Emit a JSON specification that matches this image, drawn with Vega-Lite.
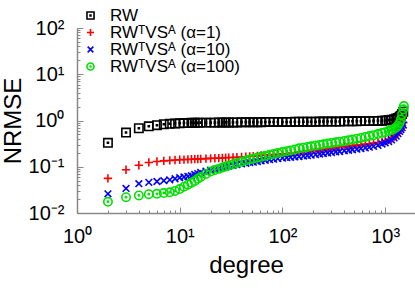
{
  "$schema": "https://vega.github.io/schema/vega-lite/v6.json",
  "width": 338,
  "height": 185,
  "autosize": {"type": "none"},
  "padding": {"left": 77, "top": 28, "right": 0, "bottom": 78},
  "background": "white",
  "config": {"view": {"stroke": null}, "font": "Liberation Sans"},
  "data": {"values": [
    {"d":2,"a":0.33,"b":0.056,"c":0.026,"e":0.0175},
    {"d":3,"a":0.55,"b":0.086,"c":0.034,"e":0.022},
    {"d":4,"a":0.68,"b":0.108,"c":0.043,"e":0.024},
    {"d":5,"a":0.75,"b":0.124,"c":0.046,"e":0.0255},
    {"d":6,"a":0.79,"b":0.13,"c":0.048,"e":0.026},
    {"d":7,"a":0.83,"b":0.134,"c":0.05,"e":0.027},
    {"d":8,"a":0.85,"b":0.137,"c":0.052,"e":0.028},
    {"d":9,"a":0.86,"b":0.14,"c":0.055,"e":0.030},
    {"d":10,"a":0.87,"b":0.142,"c":0.058,"e":0.033},
    {"d":11,"a":0.88,"b":0.143,"c":0.060,"e":0.037},
    {"d":12,"a":0.88,"b":0.144,"c":0.062,"e":0.041},
    {"d":13,"a":0.89,"b":0.145,"c":0.064,"e":0.045},
    {"d":14,"a":0.89,"b":0.146,"c":0.068,"e":0.049},
    {"d":15,"a":0.89,"b":0.147,"c":0.071,"e":0.055},
    {"d":16,"a":0.90,"b":0.148,"c":0.075,"e":0.060},
    {"d":18,"a":0.90,"b":0.150,"c":0.080,"e":0.070},
    {"d":20,"a":0.90,"b":0.152,"c":0.084,"e":0.079},
    {"d":22,"a":0.90,"b":0.153,"c":0.088,"e":0.085},
    {"d":24,"a":0.91,"b":0.154,"c":0.092,"e":0.090},
    {"d":26,"a":0.91,"b":0.155,"c":0.096,"e":0.096},
    {"d":28,"a":0.91,"b":0.157,"c":0.100,"e":0.101},
    {"d":30,"a":0.91,"b":0.158,"c":0.103,"e":0.106},
    {"d":33,"a":0.91,"b":0.159,"c":0.107,"e":0.113},
    {"d":36,"a":0.91,"b":0.161,"c":0.111,"e":0.120},
    {"d":40,"a":0.92,"b":0.163,"c":0.115,"e":0.128},
    {"d":44,"a":0.92,"b":0.165,"c":0.119,"e":0.136},
    {"d":48,"a":0.92,"b":0.167,"c":0.123,"e":0.144},
    {"d":52,"a":0.92,"b":0.169,"c":0.126,"e":0.150},
    {"d":57,"a":0.92,"b":0.172,"c":0.130,"e":0.157},
    {"d":62,"a":0.92,"b":0.175,"c":0.134,"e":0.164},
    {"d":68,"a":0.93,"b":0.178,"c":0.138,"e":0.172},
    {"d":75,"a":0.93,"b":0.181,"c":0.142,"e":0.181},
    {"d":82,"a":0.93,"b":0.184,"c":0.146,"e":0.189},
    {"d":90,"a":0.93,"b":0.187,"c":0.150,"e":0.198},
    {"d":100,"a":0.93,"b":0.190,"c":0.154,"e":0.208},
    {"d":110,"a":0.93,"b":0.194,"c":0.157,"e":0.217},
    {"d":120,"a":0.93,"b":0.198,"c":0.160,"e":0.226},
    {"d":132,"a":0.94,"b":0.202,"c":0.163,"e":0.237},
    {"d":145,"a":0.94,"b":0.208,"c":0.166,"e":0.250},
    {"d":160,"a":0.94,"b":0.213,"c":0.170,"e":0.259},
    {"d":175,"a":0.94,"b":0.218,"c":0.174,"e":0.268},
    {"d":190,"a":0.94,"b":0.223,"c":0.178,"e":0.277},
    {"d":210,"a":0.94,"b":0.229,"c":0.183,"e":0.287},
    {"d":230,"a":0.95,"b":0.235,"c":0.188,"e":0.297},
    {"d":250,"a":0.95,"b":0.241,"c":0.193,"e":0.306},
    {"d":275,"a":0.95,"b":0.248,"c":0.198,"e":0.317},
    {"d":300,"a":0.95,"b":0.255,"c":0.203,"e":0.327},
    {"d":330,"a":0.95,"b":0.262,"c":0.209,"e":0.338},
    {"d":360,"a":0.95,"b":0.268,"c":0.214,"e":0.349},
    {"d":400,"a":0.96,"b":0.275,"c":0.221,"e":0.362},
    {"d":440,"a":0.96,"b":0.281,"c":0.227,"e":0.376},
    {"d":480,"a":0.96,"b":0.287,"c":0.233,"e":0.390},
    {"d":530,"a":0.96,"b":0.293,"c":0.240,"e":0.405},
    {"d":580,"a":0.97,"b":0.300,"c":0.247,"e":0.420},
    {"d":640,"a":0.97,"b":0.310,"c":0.256,"e":0.440},
    {"d":700,"a":0.97,"b":0.315,"c":0.265,"e":0.460},
    {"d":770,"a":0.98,"b":0.325,"c":0.276,"e":0.480},
    {"d":850,"a":0.98,"b":0.335,"c":0.290,"e":0.510},
    {"d":930,"a":0.99,"b":0.345,"c":0.310,"e":0.540},
    {"d":1000,"a":1.0,"b":0.36,"c":0.33,"e":0.56},
    {"d":1080,"a":1.02,"b":0.38,"c":0.35,"e":0.59},
    {"d":1150,"a":1.04,"b":0.40,"c":0.38,"e":0.62},
    {"d":1220,"a":1.07,"b":0.44,"c":0.42,"e":0.66},
    {"d":1280,"a":1.10,"b":0.48,"c":0.46,"e":0.71},
    {"d":1330,"a":1.14,"b":0.53,"c":0.52,"e":0.78},
    {"d":1380,"a":1.20,"b":0.60,"c":0.58,"e":0.88},
    {"d":1420,"a":1.27,"b":0.68,"c":0.64,"e":1.05},
    {"d":1460,"a":1.38,"b":0.78,"c":0.70,"e":1.35},
    {"d":1500,"a":1.55,"b":0.90,"c":0.80,"e":1.75},
    {"d":1520,"e":2.05}
  ]},
  "transform": [
    {"fold": ["a","b","c","e"], "as": ["s","v"]},
    {"filter": "isValid(datum.v)"}
  ],
  "resolve": {"axis": {"x": "independent", "y": "independent"}},
  "layer": [
    {
      "mark": {"type": "point", "opacity": 0},
      "encoding": {
        "x": {"field": "d", "type": "quantitative", "scale": {"type": "log", "domain": [1, 1950], "nice": false},
          "axis": {"orient": "bottom", "values": [2,3,4,5,6,7,8,9,20,30,40,50,60,70,80,90,200,300,400,500,600,700,800,900], "labels": false, "domain": false, "grid": false, "tickSize": -3, "tickColor": "#888888", "tickWidth": 1, "title": null}},
        "y": {"field": "v", "type": "quantitative", "scale": {"type": "log", "domain": [0.01, 100], "nice": false},
          "axis": {"orient": "left", "values": [0.02,0.03,0.04,0.05,0.06,0.07,0.08,0.09,0.2,0.3,0.4,0.5,0.6,0.7,0.8,0.9,2,3,4,5,6,7,8,9,20,30,40,50,60,70,80,90], "labels": false, "domain": false, "grid": false, "tickSize": -3, "tickColor": "#888888", "tickWidth": 1, "title": null}}
      }
    },
    {
      "mark": {"type": "point", "opacity": 0},
      "encoding": {
        "x": {"field": "d", "type": "quantitative", "scale": {"type": "log", "domain": [1, 1950], "nice": false},
          "axis": {"orient": "bottom", "values": [1,10,100,1000], "labels": false, "domain": false, "grid": false, "tickSize": -6, "tickColor": "#888888", "tickWidth": 1, "title": null}},
        "y": {"field": "v", "type": "quantitative", "scale": {"type": "log", "domain": [0.01, 100], "nice": false},
          "axis": {"orient": "left", "values": [0.01,0.1,1,10,100], "labels": false, "domain": false, "grid": false, "tickSize": -6, "tickColor": "#888888", "tickWidth": 1, "title": null}}
      }
    },
    {
      "mark": {"type": "point", "filled": false, "strokeWidth": 1.6, "size": 70, "opacity": 1},
      "encoding": {
        "x": {"field": "d", "type": "quantitative", "scale": {"type": "log", "domain": [1, 1950], "nice": false},
          "axis": {"orient": "bottom", "values": [1,10,100,1000], "ticks": false, "grid": false, "domainColor": "#888888", "domainWidth": 1.5,
            "labelExpr": "datum.value==1?'10⁰':datum.value==10?'10¹':datum.value==100?'10²':'10³'",
            "labelFlush": false, "labelOverlap": false,
            "labelFontSize": 20, "labelColor": "black", "labelPadding": 13, "labelFont": "Liberation Sans",
            "title": "degree", "titleFontSize": 24, "titleFontWeight": "normal", "titleColor": "black", "titlePadding": 7, "titleFont": "Liberation Sans"}},
        "y": {"field": "v", "type": "quantitative", "scale": {"type": "log", "domain": [0.01, 100], "nice": false},
          "axis": {"orient": "left", "values": [0.01,0.1,1,10,100], "ticks": false, "grid": false, "domainColor": "#888888", "domainWidth": 1.5,
            "labelExpr": "datum.value==0.01?'10⁻²':datum.value==0.1?'10⁻¹':datum.value==1?'10⁰':datum.value==10?'10¹':'10²'",
            "labelFlush": false, "labelOverlap": false,
            "labelFontSize": 20, "labelColor": "black", "labelPadding": 13, "labelFont": "Liberation Sans",
            "title": "NRMSE", "titleFontSize": 24, "titleFontWeight": "normal", "titleColor": "black", "titlePadding": 3, "titleFont": "Liberation Sans"}},
        "color": {"field": "s", "type": "nominal",
          "scale": {"domain": ["a","b","c","e"], "range": ["#000000","#ff0000","#0000ff","#00e000"]},
          "legend": {"orient": "none", "legendX": 5, "legendY": -21, "title": null, "padding": 0,
            "labelExpr": "datum.label=='a'?'RW':datum.label=='b'?'RWᵀVSᴬ (α=1)':datum.label=='c'?'RWᵀVSᴬ (α=10)':'RWᵀVSᴬ (α=100)'",
            "labelFontSize": 17, "labelFont": "Liberation Sans", "labelColor": "black", "labelOffset": 11,
            "symbolSize": 50, "symbolStrokeWidth": 1.6, "rowPadding": -4}},
        "shape": {"field": "s", "type": "nominal",
          "scale": {"domain": ["a","b","c","e"], "range": [
            "M-1,-1H1V1H-1Z M-0.12,-0.12H0.12V0.12H-0.12Z",
            "M-1,0H1M0,-1V1",
            "M-0.8,-0.8L0.8,0.8M-0.8,0.8L0.8,-0.8",
            "M1,0A1,1 0 1,1 -1,0A1,1 0 1,1 1,0Z M0.15,0A0.15,0.15 0 1,1 -0.15,0A0.15,0.15 0 1,1 0.15,0Z"]},
          "legend": null},
        "order": {"field": "s", "type": "ordinal"}
      }
    }
  ]
}
